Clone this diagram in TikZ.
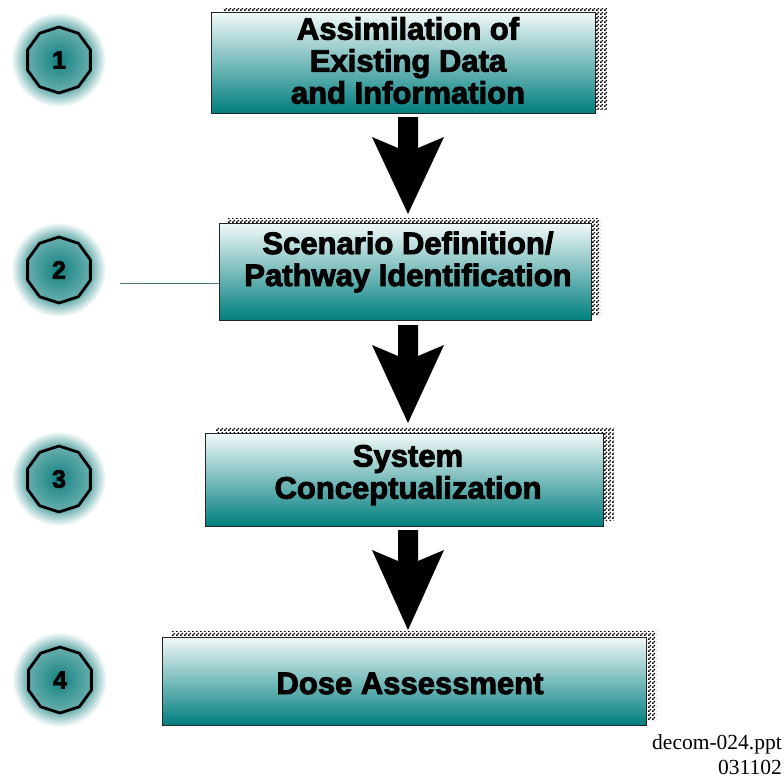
\documentclass[tikz,border=0pt]{standalone}
\usepackage{fontspec}
\usetikzlibrary{calc,patterns}
\newfontfamily\heavy{Liberation Sans Bold}[FakeBold=3]
\newfontfamily\serif{Liberation Serif}
\definecolor{boxtop}{RGB}{242,249,249}
\definecolor{boxbot}{RGB}{0,126,126}
\definecolor{gA}{RGB}{18,128,128}
\definecolor{linecol}{RGB}{70,120,120}
\pgfdeclarepatternformonly{mychecker}{\pgfpointorigin}{\pgfqpoint{4pt}{4pt}}{\pgfqpoint{4pt}{4pt}}{%
  \pgfpathrectangle{\pgfpointorigin}{\pgfqpoint{2pt}{2pt}}%
  \pgfpathrectangle{\pgfqpoint{2pt}{2pt}}{\pgfqpoint{2pt}{2pt}}%
  \pgfusepath{fill}}
\tikzset{
  stepbox/.style={draw=black!85, line width=1pt, shade, top color=boxtop, bottom color=boxbot, inner sep=0pt},
  boxtext/.style={font=\heavy\fontsize{31}{32}\selectfont, align=center, inner sep=0pt},
  numdisc/.style={circle, minimum size=96pt, inner sep=0pt, font=\heavy\fontsize{25}{30}\selectfont},
  octline/.style={line width=2.8pt, line join=round},
  shadowfill/.style={pattern=mychecker, pattern color=black},
  conn/.style={draw=linecol, line width=0.8pt},
}
\newcommand\glowdisc[1]{%
  \foreach \r in {48,47,...,1}{%
    \pgfmathsetmacro\pct{ifthenelse(\r<=33, 100-1.12*\r, 4.2*(48-\r))}%
    \fill[gA!\pct!white] (#1) circle (\r);}}
\newcommand\decagon[1]{%
  \draw[octline] ($(#1)+(90:33)$) -- ($(#1)+(54:33)$) -- ($(#1)+(18:33)$) -- ($(#1)+(-18:33)$) -- ($(#1)+(-54:33)$) -- ($(#1)+(-90:33)$) -- ($(#1)+(-126:33)$) -- ($(#1)+(-162:33)$) -- ($(#1)+(162:33)$) -- ($(#1)+(126:33)$) -- cycle;}
\newcommand\blkarrow[2]{%
  \fill ($(#1)+(-10,0)$) -- ($(#1)+(10,0)$) -- ($(#1)+(10,31)$) -- ($(#1)+(36,20)$) -- (#2) -- ($(#1)+(-36,20)$) -- ($(#1)+(-10,31)$) -- cycle;}
\newcommand\boxshadow[3]{%
  \fill[shadowfill] ($(#1.south west)+(#2,#3)$) rectangle ($(#1.north east)+(#2,#3)$);}
\begin{document}
\begin{tikzpicture}[x=1pt,y=-1pt]
\useasboundingbox[fill=white] (0,0) rectangle (784,779);
% boxes
\path (403,62.5) node[minimum width=384pt, minimum height=101pt] (s1) {};
\path (405,271.5) node[minimum width=372pt, minimum height=97pt] (s2) {};
\path (404,479.5) node[minimum width=398pt, minimum height=93pt] (s3) {};
\path (404,681) node[minimum width=484pt, minimum height=88pt] (s4) {};
\boxshadow{s1}{12}{-3.5}
\boxshadow{s2}{9}{-4.5}
\boxshadow{s3}{11}{-5.5}
\boxshadow{s4}{10}{-5}
\node[stepbox, minimum width=384pt, minimum height=101pt] (b1) at (403,62.5) {};
\node[stepbox, minimum width=372pt, minimum height=97pt] (b2) at (405,271.5) {};
\node[stepbox, minimum width=398pt, minimum height=93pt] (b3) at (404,479.5) {};
\node[stepbox, minimum width=484pt, minimum height=88pt] (b4) at (404,681) {};
\node[boxtext] (t1) at (408,60.5) {Assimilation of\\Existing Data\\and Information};
\node[boxtext] (t2) at (408,262) {Scenario Definition/\\Pathway Identification};
\node[boxtext] (t3) at (408,475) {System\\Conceptualization};
\node[boxtext] (t4) at (410,683.5) {Dose Assessment};
% arrows
\coordinate (a1) at (408,117); \coordinate (a1e) at (408,214);
\coordinate (a2) at (408,325); \coordinate (a2e) at (408,423);
\coordinate (a3) at (408,530); \coordinate (a3e) at (408,630);
\blkarrow{a1}{a1e}
\blkarrow{a2}{a2e}
\blkarrow{a3}{a3e}
% discs
\coordinate (g1) at (59,60);
\coordinate (g2) at (59,270);
\coordinate (g3) at (59,479);
\coordinate (g4) at (60,680);
\glowdisc{g1}\glowdisc{g2}\glowdisc{g3}\glowdisc{g4}
\node[numdisc] (c1) at (g1) {1};
\node[numdisc] (c2) at (g2) {2};
\node[numdisc] (c3) at (g3) {3};
\node[numdisc] (c4) at (g4) {4};
\decagon{c1}\decagon{c2}\decagon{c3}\decagon{c4}
% thin line
\coordinate (lend) at (120,283);
\draw[conn] (lend) -- (lend -| b2.west);
% file note
\node[anchor=east, align=right, inner sep=0pt, font=\serif\fontsize{21.5}{25}\selectfont] (note) at (782,755) {decom-024.ppt\\031102};
\end{tikzpicture}
\end{document}
